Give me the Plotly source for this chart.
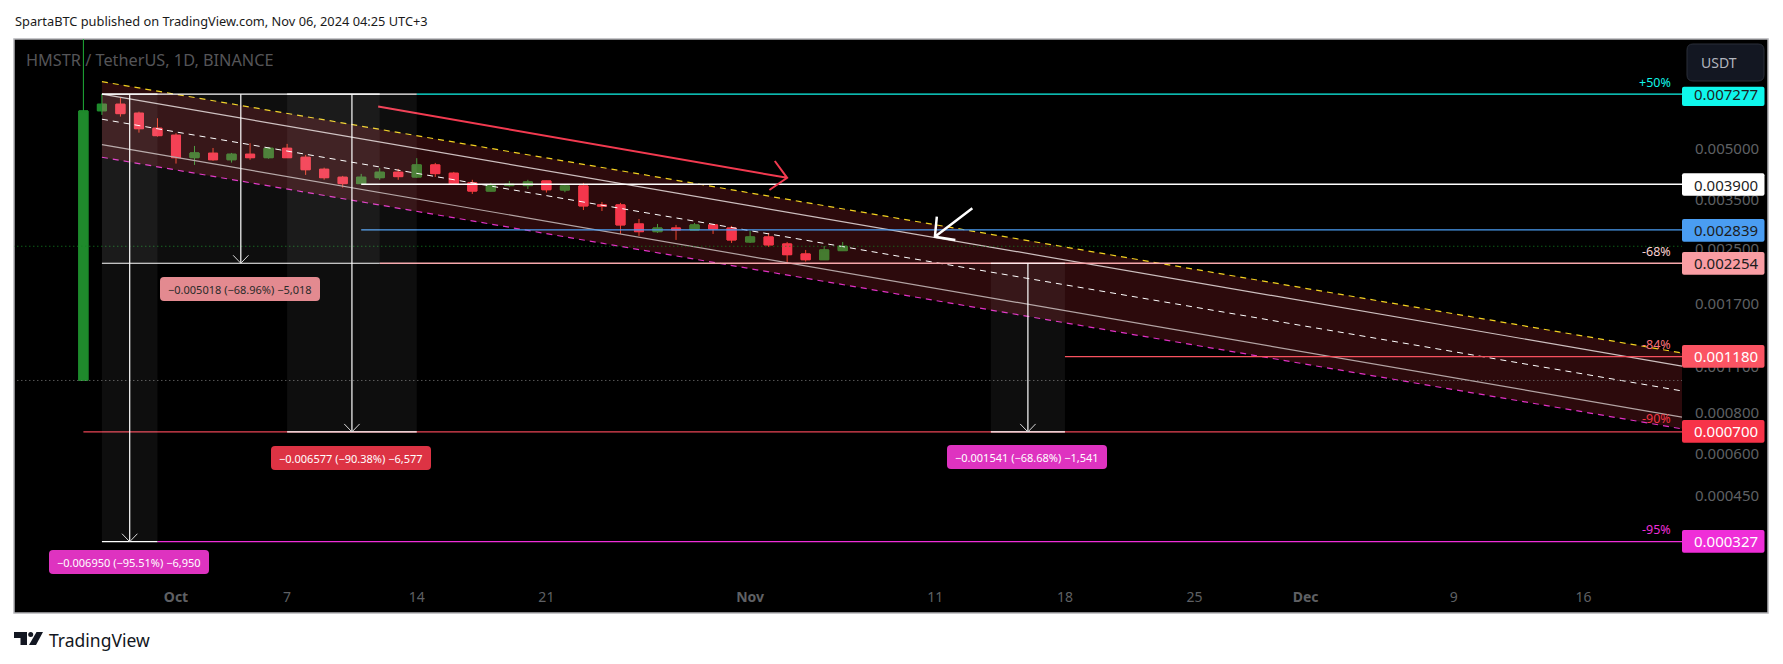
import math
import pandas as pd
import plotly.graph_objects as go

# HMSTR / USDT daily
dates = pd.date_range("2024-09-26", periods=42, freq="D")
opens = [0.001000, 0.006488, 0.006789, 0.006379, 0.005748, 0.005476, 0.004687, 0.004833, 0.004620, 0.004800,
         0.004687, 0.005002, 0.004700, 0.004325, 0.004092, 0.003915, 0.004080, 0.004237, 0.004100, 0.004457,
         0.004208, 0.003935, 0.003718, 0.003861, 0.003861, 0.003988, 0.003746, 0.003853, 0.003378, 0.003378,
         0.002960, 0.002806, 0.002878, 0.002839, 0.002940, 0.002878, 0.002613, 0.002705, 0.002577, 0.002404,
         0.002310, 0.002460]
highs = [0.011500, 0.007277, 0.007105, 0.006449, 0.006160, 0.005552, 0.005084, 0.005013, 0.004843, 0.005181,
         0.005038, 0.005156, 0.004777, 0.004373, 0.004130, 0.004188, 0.004362, 0.004335, 0.004670, 0.004519,
         0.004246, 0.004020, 0.003935, 0.003988, 0.004020, 0.003995, 0.003899, 0.003935, 0.003448, 0.003425,
         0.003064, 0.002960, 0.002940, 0.002980, 0.002960, 0.002920, 0.002820, 0.002781, 0.002613, 0.002472,
         0.002541, 0.002613]
lows = [0.001000, 0.006304, 0.006230, 0.005575, 0.005422, 0.004498, 0.004457, 0.004588, 0.004529, 0.004620,
        0.004654, 0.004680, 0.004159, 0.004023, 0.003807, 0.003907, 0.004020, 0.004020, 0.004080, 0.004100,
        0.003880, 0.003645, 0.003710, 0.003834, 0.003772, 0.003680, 0.003688, 0.003260, 0.003238, 0.002762,
        0.002724, 0.002781, 0.002650, 0.002835, 0.002762, 0.002595, 0.002595, 0.002525, 0.002254, 0.002280,
        0.002305, 0.002453]
closes = [0.006480, 0.006789, 0.006361, 0.005730, 0.005460, 0.004687, 0.004843, 0.004620, 0.004800, 0.004687,
          0.005002, 0.004687, 0.004312, 0.004080, 0.003915, 0.004092, 0.004237, 0.004110, 0.004457, 0.004196,
          0.003907, 0.003718, 0.003861, 0.003899, 0.003961, 0.003753, 0.003853, 0.003354, 0.003354, 0.002940,
          0.002806, 0.002878, 0.002839, 0.002940, 0.002859, 0.002649, 0.002705, 0.002560, 0.002392, 0.002310,
          0.002472, 0.002536]

# falling channel, start and end price of each line
channel_dates = ["2024-09-27", "2024-12-21 07:40"]
channel_top = [0.007941, 0.001210]
channel_upper = [0.007277, 0.001105]
channel_mid = [0.006119, 0.000930]
channel_lower = [0.005130, 0.000776]
channel_bottom = [0.004701, 0.000715]

# horizontal levels: price, start date, colour, width
right_edge = "2024-12-21 07:40"
levels = [
    (0.007277, "2024-10-14", "#10f5e8", 1.3),
    (0.003900, "2024-10-11", "#ffffff", 1.5),
    (0.002839, "2024-10-11", "#4a9df2", 1.3),
    (0.002254, "2024-10-12", "#f7a8ac", 1.3),
    (0.001180, "2024-11-18", "#f7525f", 1.3),
    (0.000700, "2024-09-26", "#ea4454", 1.3),
    (0.000327, "2024-09-30", "#ee2ed8", 1.3),
]

# price range tools: start, end, top price, bottom price
ranges = [
    ("2024-09-27", "2024-09-30", 0.007277, 0.000327),
    ("2024-09-27", "2024-10-12", 0.007277, 0.002254),
    ("2024-10-07", "2024-10-14", 0.007277, 0.000700),
    ("2024-11-14", "2024-11-18", 0.002254, 0.000700),
]

# drawn arrows
red_arrow_dates = ["2024-10-11 22:00", "2024-11-03", "2024-11-02 08:00", "2024-11-03", "2024-11-02 01:00"]
red_arrow_prices = [0.006682, 0.004076, 0.004579, 0.004076, 0.003746]
white_arrow_dates = ["2024-11-13", "2024-11-10 23:30", "2024-11-11 02:00", "2024-11-10 23:30", "2024-11-12 02:00"]
white_arrow_prices = [0.003300, 0.002710, 0.003113, 0.002710, 0.002650]

x_tick_dates = ["2024-10-01", "2024-10-07", "2024-10-14", "2024-10-21", "2024-11-01", "2024-11-11",
                "2024-11-18", "2024-11-25", "2024-12-01", "2024-12-09", "2024-12-16"]
x_tick_labels = ["<b>Oct</b>", "7", "14", "21", "<b>Nov</b>", "11", "18", "25", "<b>Dec</b>", "9", "16"]
y_ticks = [0.005, 0.0035, 0.0025, 0.0017, 0.0011, 0.0008, 0.0006, 0.00045]
y_tick_labels = ["0.005000", "0.003500", "0.002500", "0.001700", "0.001100", "0.000800", "0.000600", "0.000450"]

FONT = "Noto Sans"
W, H = 1783, 664
L, R, T, B = 14, 1682, 39, 575


def px(x):
    return (x - L) / (R - L)


def py(y):
    return (B - y) / (B - T)


def rounded(x0, y0, x1, y1, r, color, line=None):
    a, b, c, d = px(x0), px(x1), py(y0), py(y1)
    rx, ry = r / (R - L), r / (B - T)
    path = (f"M {a+rx} {c} L {b-rx} {c} Q {b} {c} {b} {c-ry} L {b} {d+ry} Q {b} {d} {b-rx} {d} "
            f"L {a+rx} {d} Q {a} {d} {a} {d+ry} L {a} {c-ry} Q {a} {c} {a+rx} {c} Z")
    return dict(type="path", xref="paper", yref="paper", path=path, fillcolor=color,
                line=dict(color=line or color, width=1 if line else 0), layer="above")


def label(x, y, text, size, color, anchor="left"):
    return dict(xref="paper", yref="paper", x=px(x), y=py(y), text=text, showarrow=False,
                xanchor=anchor, yanchor="middle", borderpad=0,
                font=dict(family=FONT, size=size, color=color))


def seg(xs, ys, color, width=1, dash="solid"):
    return go.Scatter(x=xs, y=ys, mode="lines", line=dict(color=color, width=width, dash=dash),
                      hoverinfo="skip")


fig = go.Figure()

# wicks in their brighter colour, bodies drawn again on top
fig.add_trace(go.Candlestick(x=dates, open=opens, high=highs, low=lows, close=closes,
                             increasing=dict(line=dict(color="#1fae37", width=1), fillcolor="#1f8a2c"),
                             decreasing=dict(line=dict(color="#f2472a", width=1), fillcolor="#f5364f")))
body_top = [max(o, c) for o, c in zip(opens, closes)]
body_bot = [min(o, c) for o, c in zip(opens, closes)]
fig.add_trace(go.Candlestick(x=dates, open=opens, high=body_top, low=body_bot, close=closes,
                             increasing=dict(line=dict(color="#1f8a2c", width=1), fillcolor="#1f8a2c"),
                             decreasing=dict(line=dict(color="#f5364f", width=1), fillcolor="#f5364f")))

# channel fill
fig.add_trace(seg(channel_dates, channel_bottom, "#e030c4", 1.2, "6px,5px"))
fig.add_trace(go.Scatter(x=channel_dates, y=channel_top, mode="lines", fill="tonexty",
                         fillcolor="rgba(242,54,69,0.18)", line=dict(color="#f0d020", width=1.2, dash="6px,5px"),
                         hoverinfo="skip"))
fig.add_trace(seg(channel_dates, channel_upper, "#cdbfbf", 1.2))
fig.add_trace(seg(channel_dates, channel_mid, "#ffffff", 1, "6px,5px"))
fig.add_trace(seg(channel_dates, channel_lower, "#b3a4a4", 1.2))

# dotted price lines
fig.add_trace(seg([dates[0] - pd.Timedelta(days=4), right_edge], [closes[-1]] * 2, "#128a22", 1, "1px,3px"))
fig.add_trace(seg([dates[0] - pd.Timedelta(days=4), right_edge], [opens[0]] * 2, "#7d7d7d", 1, "1px,3px"))

for price, start, color, width in levels:
    fig.add_trace(seg([start, right_edge], [price, price], color, width))

shapes = [
    dict(type="rect", xref="paper", yref="paper", x0=0, x1=px(1768), y0=py(39), y1=py(613),
         fillcolor="#000000", line=dict(color="#b4b4b8", width=1.5), layer="below"),
]

for start, end, top, bottom in ranges:
    shapes.append(dict(type="rect", x0=start, x1=end, y0=bottom, y1=top, xref="x", yref="y",
                       fillcolor="rgba(255,255,255,0.055)", line=dict(width=0), layer="above"))
    mid = pd.Timestamp(start) + (pd.Timestamp(end) - pd.Timestamp(start)) / 2
    fig.add_trace(seg([start, end], [top, top], "#ffffff", 1.2))
    fig.add_trace(seg([start, end], [bottom, bottom], "#ffffff", 1.2))
    fig.add_trace(seg([mid, mid], [top, bottom], "#ffffff", 1.2))
    off = pd.Timedelta(hours=10)
    fig.add_trace(seg([mid - off, mid, mid + off], [bottom * 1.057, bottom, bottom * 1.057], "#d8d8d8", 1))

fig.add_trace(seg(red_arrow_dates, red_arrow_prices, "#f23a50", 2))
fig.add_trace(seg(white_arrow_dates, white_arrow_prices, "#ffffff", 2.5))

# value pills under the range tools
pills = [
    (160, 277, 320, 301, "#e38a90", "−0.005018 (−68.96%) −5,018", "#2a2a2a"),
    (271, 446, 431, 470, "#dd3344", "−0.006577 (−90.38%) −6,577", "#ffffff"),
    (947, 445, 1107, 469, "#de33c0", "−0.001541 (−68.68%) −1,541", "#ffffff"),
    (49, 550, 209, 574, "#de33c0", "−0.006950 (−95.51%) −6,950", "#ffffff"),
]
annotations = []
for x0, y0, x1, y1, bg, text, fg in pills:
    shapes.append(rounded(x0, y0, x1, y1, 4, bg))
    annotations.append(label((x0 + x1) / 2, (y0 + y1) / 2, text, 11, fg, "center"))

# price tags on the axis
tags = [
    (86.7, 106, 94.3, "0.007277", "#0ff7ec", "#1c1c1c"),
    (173.3, 195.7, 184.5, "0.003900", "#ffffff", "#1c1c1c"),
    (219, 241.7, 230.3, "0.002839", "#4a9df2", "#1c1c1c"),
    (252, 274.7, 263.3, "0.002254", "#f99da3", "#1c1c1c"),
    (345, 367.7, 356.3, "0.001180", "#fb5463", "#ffffff"),
    (420, 442.7, 431.3, "0.000700", "#f73348", "#ffffff"),
    (530, 552.7, 541.3, "0.000327", "#ef2ed8", "#ffffff"),
]
for y0, y1, yc, text, bg, fg in tags:
    shapes.append(rounded(1682, y0, 1764.5, y1, 2, bg))
    annotations.append(label(1693, yc, text, 15, fg))

percents = [
    (82, "+50%", "#10f5e8"),
    (251.7, "-68%", "#f8cfcf"),
    (344, "-84%", "#f9707a"),
    (419, "-90%", "#f23645"),
    (529, "-95%", "#ee2ed8"),
]
for y, text, color in percents:
    annotations.append(label(1672, y, text, 12.5, color, "right"))

# USDT button
shapes.append(rounded(1687, 44, 1764, 81, 6, "#131722", "#2a2e39"))
annotations.append(label(1700, 62.7, "USDT", 14, "#b2b5be"))

annotations.append(label(14, 20.5, "SpartaBTC published on TradingView.com, Nov 06, 2024 04:25 UTC+3", 12.8, "#1a1a1a"))
annotations.append(label(25, 60, "HMSTR / TetherUS, 1D, BINANCE", 16.3, "#555558"))
annotations.append(label(48, 640, "TradingView", 17.5, "#131722"))

# TradingView logo
logo = "#131722"
shapes.append(dict(type="path", xref="paper", yref="paper", fillcolor=logo, line=dict(width=0),
                   path=(f"M {px(14)} {py(632)} L {px(27)} {py(632)} L {px(27)} {py(645)} L {px(20.5)} {py(645)} "
                         f"L {px(20.5)} {py(638)} L {px(14)} {py(638)} Z")))
shapes.append(dict(type="circle", xref="paper", yref="paper", fillcolor=logo, line=dict(width=0),
                   x0=px(28.2), x1=px(33.2), y0=py(637), y1=py(632)))
shapes.append(dict(type="path", xref="paper", yref="paper", fillcolor=logo, line=dict(width=0),
                   path=f"M {px(36.5)} {py(632)} L {px(43)} {py(632)} L {px(36)} {py(645)} L {px(29)} {py(645)} Z"))

fig.update_layout(
    width=W, height=H,
    margin=dict(l=L, r=W - R, t=T, b=H - B, autoexpand=False),
    paper_bgcolor="#ffffff", plot_bgcolor="#000000",
    showlegend=False, hovermode=False, boxmode="overlay",
    shapes=shapes, annotations=annotations,
    font=dict(family=FONT),
)
fig.update_xaxes(
    type="date", range=["2024-09-22 06:04", right_edge], rangeslider=dict(visible=False),
    tickmode="array", tickvals=x_tick_dates, ticktext=x_tick_labels,
    showgrid=False, zeroline=False, showline=False,
    ticks="outside", ticklen=9, tickcolor="#000000",
    tickfont=dict(family=FONT, size=14, color="#5f6064"),
)
fig.update_yaxes(
    type="log", range=[math.log10(0.0002596), math.log10(0.01067)], side="right",
    tickmode="array", tickvals=y_ticks, ticktext=y_tick_labels,
    showgrid=False, zeroline=False, showline=False,
    ticks="outside", ticklen=9, tickcolor="#000000",
    tickfont=dict(family=FONT, size=15, color="#5f6064"),
)

fig.write_html("out.html", config=dict(displayModeBar=False),
               post_script="document.body.style.margin='0';document.body.style.overflow='hidden';")
